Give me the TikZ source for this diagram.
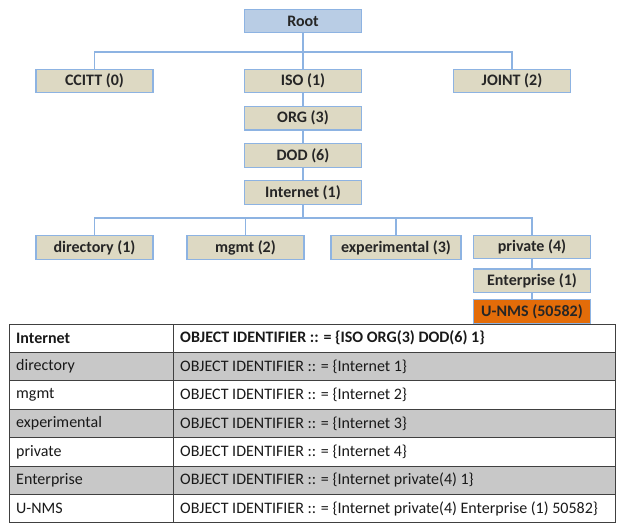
\documentclass[tikz,border=0pt]{standalone}
\usepackage{fontspec}
\setmainfont{Carlito}
\usepackage{xcolor}
\usepackage{tikz}
\usetikzlibrary{positioning}

\definecolor{boxfill}{HTML}{DDD9C3}
\definecolor{boxline}{HTML}{8DB3E2}
\definecolor{rootfill}{HTML}{B9CDE5}
\definecolor{leaffill}{HTML}{E36C09}
\definecolor{rowgray}{HTML}{C8C8C8}
\definecolor{gridline}{HTML}{404040}

\begin{document}
\begin{tikzpicture}[
    x=1pt, y=-1pt,
    node distance=12.5pt,
    oid/.style={draw=boxline, line width=1.2pt, fill=boxfill, minimum width=117pt, minimum height=23.5pt, inner sep=1pt, font=\fontsize{16}{18}\selectfont\bfseries, text=black!85},
    link/.style={draw=boxline, line width=1.2pt},
    celltext/.style={anchor=west, inner sep=0pt, font=\fontsize{16}{18}\selectfont, text=black!90},
    grid/.style={draw=gridline, line width=0.8pt}
]
\useasboundingbox (0,0) rectangle (617,524);

% OID tree
\node[oid, fill=rootfill] (root) at (303,21) {Root};
\node[oid] (ccitt) at (94.5,81) {CCITT (0)};
\node[oid] (iso) at (303,81) {ISO (1)};
\node[oid] (joint) at (512,81) {JOINT (2)};
\node[oid, below=of iso] (org) {ORG (3)};
\node[oid, below=of org] (dod) {DOD (6)};
\node[oid, below=of dod] (internet) {Internet (1)};
\node[oid] (directory) at (94.5,247.5) {directory (1)};
\node[oid] (mgmt) at (245.5,247.5) {mgmt (2)};
\node[oid, minimum width=130pt] (experimental) at (396,247.5) {experimental (3)};
\node[oid] (private) at (532,247) {private (4)};
\node[oid, below=9pt of private] (enterprise) {Enterprise (1)};
\node[oid, below=6pt of enterprise, fill=leaffill] (unms) {U-NMS (50582)};

\coordinate (top bus) at (303,52);
\coordinate (low bus) at (303,218);
\draw[link] (ccitt.north) |- (top bus) -| (joint.north);
\draw[link] (root) -- (iso);
\draw[link] (iso) -- (org);
\draw[link] (org) -- (dod);
\draw[link] (dod) -- (internet);
\draw[link] (internet) -- (low bus);
\draw[link] (directory.north) |- (low bus) -| (private.north);
\draw[link] (mgmt) -- (mgmt |- low bus);
\draw[link] (experimental) -- (experimental |- low bus);
\draw[link] (private) -- (enterprise);
\draw[link] (enterprise) -- (unms);

% table of definitions
\node[celltext, font=\fontsize{16}{18}\selectfont\bfseries] (name0) at (16,338.2) {Internet};
\node[celltext, font=\fontsize{16}{18}\selectfont\bfseries] (def0) at (180,338.2) {OBJECT IDENTIFIER :: = \{ISO ORG(3) DOD(6) 1\}};
\foreach \lbl/\shade/\suffix [count=\i] in {
    directory/rowgray/{Internet 1},
    mgmt/white/{Internet 2},
    experimental/rowgray/{Internet 3},
    private/white/{Internet 4},
    Enterprise/rowgray/{Internet private(4) 1},
    U-NMS/white/{Internet private(4) Enterprise (1) 50582}}{
  \fill[\shade] (9,324+28.4*\i) rectangle (615,324+28.4*\i+28.4);
  \node[celltext] (name\i) at (16,338.2+28.4*\i) {\lbl};
  \node[celltext] (def\i) at (180,338.2+28.4*\i) {OBJECT IDENTIFIER :: = \{\suffix\}};
  \draw[grid] (9,324+28.4*\i) -- (615,324+28.4*\i);
}
\draw[grid] (9,324) rectangle (615,522.8);
\draw[grid] (173,324) -- (173,522.8);
\draw[gridline, line width=1.8pt] (9,352.4) -- (615,352.4);
\end{tikzpicture}
\end{document}
